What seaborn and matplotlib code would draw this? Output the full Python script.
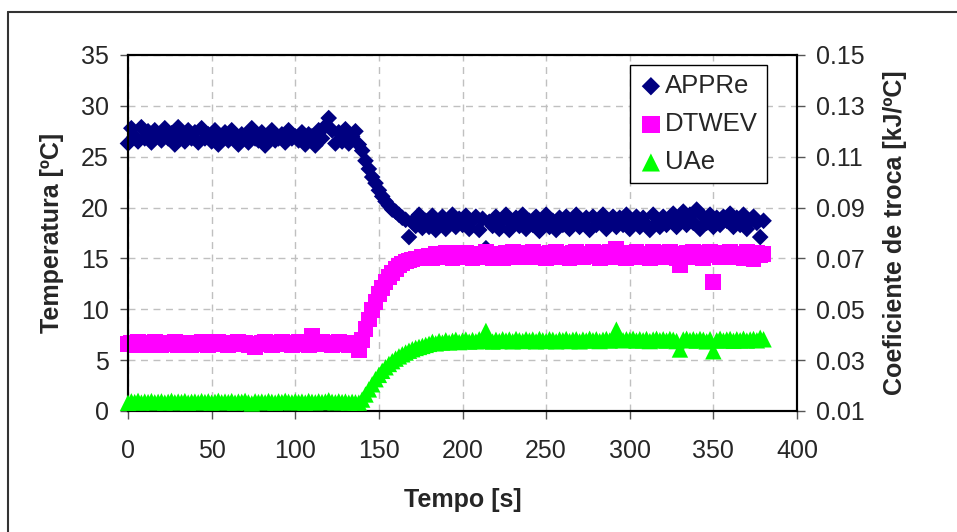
import numpy as np
import pandas as pd
import matplotlib
matplotlib.use("Agg")
import matplotlib.pyplot as plt
import seaborn as sns

# tempo em segundos (amostras a cada 2 s)
tempo = list(range(0, 381, 2))

# APPRe [ºC]
appre = [
    26.3, 27.8, 27.0, 26.5, 27.9, 26.8, 27.5, 26.4, 27.6, 27.1,
    26.6, 27.8, 26.8, 27.3, 26.2, 27.9, 27.0, 26.5, 27.6, 26.8,
    27.4, 26.4, 27.8, 26.8, 27.2, 26.5, 27.6, 26.2, 27.0, 27.4,
    26.6, 27.6, 26.8, 26.2, 27.2, 27.0, 26.4, 27.8, 26.8, 26.6,
    27.4, 26.1, 27.0, 27.6, 26.6, 26.8, 27.2, 26.4, 27.6, 26.8,
    27.0, 26.6, 27.4, 26.2, 27.2, 27.0, 26.1, 27.6, 26.8, 28.0,
    28.8, 27.6, 26.3, 27.4, 26.5, 27.7, 26.3, 27.0, 27.5, 26.2,
    25.6, 24.6, 23.8, 23.0, 22.4, 21.7, 21.1, 20.6, 20.2, 19.8,
    19.6, 19.3, 19.0, 18.8, 17.1, 18.6, 18.2, 19.3, 18.0, 18.7,
    18.1, 19.2, 17.8, 18.6, 19.1, 17.9, 18.7, 19.3, 18.1, 18.9,
    18.3, 19.2, 17.9, 18.7, 19.1, 17.8, 18.9, 16.0, 18.6, 18.2,
    19.1, 17.9, 18.7, 19.3, 17.8, 18.5, 19.0, 18.2, 19.3, 17.9,
    18.7, 18.3, 19.1, 17.7, 18.5, 19.3, 18.1, 18.7, 17.8, 19.0,
    18.3, 19.1, 17.9, 18.7, 19.3, 18.1, 18.5, 19.0, 17.8, 19.1,
    18.3, 18.7, 19.3, 17.9, 18.5, 19.1, 18.1, 19.0, 18.3, 19.3,
    17.9, 18.7, 19.1, 18.1, 19.0, 18.3, 17.8, 19.3, 18.5, 18.1,
    19.1, 18.3, 19.0, 19.4, 18.1, 18.7, 19.6, 18.3, 19.3, 18.5,
    19.8, 17.9, 19.1, 18.5, 19.3, 18.1, 19.0, 18.3, 19.1, 18.7,
    19.4, 18.1, 19.0, 18.3, 19.3, 17.9, 18.7, 19.1, 18.5, 17.1,
    18.7,
]

# DTWEV [ºC]
dtwev = [
    6.6, 6.7, 6.5, 6.8, 6.6, 6.7, 6.5, 6.6, 6.8, 6.7,
    6.5, 6.6, 6.7, 6.6, 6.8, 6.5, 6.6, 6.7, 6.6, 6.5,
    6.7, 6.6, 6.8, 6.6, 6.5, 6.7, 6.6, 6.8, 6.7, 6.6,
    6.5, 6.7, 6.6, 6.8, 6.6, 6.7, 6.5, 6.6, 6.3, 6.6,
    6.7, 6.8, 6.6, 6.5, 6.7, 6.6, 6.8, 6.6, 6.7, 6.5,
    6.6, 6.8, 6.7, 6.6, 6.5, 7.4, 6.7, 6.6, 6.8, 6.7,
    6.6, 6.5, 6.7, 6.8, 6.6, 6.7, 6.5, 6.6, 6.7, 6.0,
    7.0, 8.1, 9.0, 9.9, 10.7, 11.5, 12.1, 12.7, 13.2, 13.6,
    14.0, 14.3, 14.5, 14.7, 14.8, 14.9, 15.0, 15.0, 15.1, 15.1,
    15.2, 15.0, 15.4, 15.1, 15.3, 15.5, 15.2, 15.0, 15.5, 15.3,
    15.1, 15.5, 15.3, 15.0, 15.4, 15.2, 15.1, 15.6, 15.3, 15.0,
    15.4, 15.2, 15.0, 15.5, 15.3, 15.6, 15.1, 15.3, 15.5, 15.1,
    15.3, 15.6, 15.1, 15.4, 15.2, 15.0, 15.5, 15.3, 15.6, 15.1,
    15.4, 15.2, 15.0, 15.5, 15.6, 15.2, 15.1, 15.4, 15.3, 15.6,
    15.2, 15.0, 15.5, 15.3, 15.6, 15.1, 15.9, 15.4, 15.2, 15.0,
    15.5, 15.2, 15.6, 15.1, 15.4, 15.3, 15.0, 15.6, 15.2, 15.5,
    15.1, 15.3, 15.6, 15.4, 15.0, 14.3, 15.3, 15.5, 15.1, 15.6,
    15.2, 15.5, 15.0, 15.3, 15.6, 12.7, 15.3, 15.1, 15.5, 15.2,
    15.6, 15.1, 15.4, 15.3, 15.0, 15.6, 15.2, 14.9, 15.5, 15.3,
    15.4,
]

# UAe [kJ/ºC] (eixo secundario)
uae = [
    0.0132, 0.0138, 0.0135, 0.0140, 0.0133, 0.0137, 0.0135, 0.0139, 0.0134, 0.0136,
    0.0138, 0.0133, 0.0136, 0.0140, 0.0134, 0.0137, 0.0135, 0.0139, 0.0133, 0.0136,
    0.0137, 0.0134, 0.0139, 0.0135, 0.0138, 0.0133, 0.0136, 0.0140, 0.0134, 0.0137,
    0.0135, 0.0139, 0.0133, 0.0137, 0.0136, 0.0140, 0.0134, 0.0130, 0.0138, 0.0135,
    0.0137, 0.0134, 0.0139, 0.0136, 0.0133, 0.0138, 0.0135, 0.0140, 0.0136, 0.0134,
    0.0138, 0.0135, 0.0137, 0.0133, 0.0139, 0.0136, 0.0134, 0.0138, 0.0135, 0.0137,
    0.0142, 0.0136, 0.0134, 0.0138, 0.0135, 0.0137, 0.0133, 0.0136, 0.0134, 0.0133,
    0.0145, 0.0165, 0.0185, 0.0205, 0.0225, 0.0242, 0.0258, 0.0272, 0.0285, 0.0296,
    0.0306, 0.0315, 0.0323, 0.0330, 0.0337, 0.0343, 0.0348, 0.0352, 0.0356, 0.0360,
    0.0364, 0.0372, 0.0366, 0.0375, 0.0369, 0.0378, 0.0370, 0.0376, 0.0380, 0.0371,
    0.0377, 0.0381, 0.0373, 0.0379, 0.0374, 0.0382, 0.0376, 0.0415, 0.0380, 0.0373,
    0.0380, 0.0375, 0.0382, 0.0377, 0.0381, 0.0374, 0.0383, 0.0378, 0.0375, 0.0382,
    0.0377, 0.0381, 0.0374, 0.0383, 0.0378, 0.0375, 0.0382, 0.0380, 0.0374, 0.0381,
    0.0378, 0.0383, 0.0375, 0.0380, 0.0382, 0.0374, 0.0381, 0.0377, 0.0384, 0.0378,
    0.0382, 0.0375, 0.0380, 0.0383, 0.0377, 0.0381, 0.0420, 0.0386, 0.0378, 0.0382,
    0.0380, 0.0384, 0.0377, 0.0382, 0.0378, 0.0383, 0.0375, 0.0381, 0.0384, 0.0378,
    0.0382, 0.0377, 0.0383, 0.0380, 0.0375, 0.0342, 0.0381, 0.0384, 0.0378, 0.0382,
    0.0377, 0.0383, 0.0380, 0.0374, 0.0382, 0.0335, 0.0378, 0.0384, 0.0377, 0.0381,
    0.0383, 0.0376, 0.0382, 0.0378, 0.0384, 0.0377, 0.0381, 0.0383, 0.0378, 0.0388,
    0.0382,
]

x_ticks = [0, 50, 100, 150, 200, 250, 300, 350, 400]
y_ticks = [0, 5, 10, 15, 20, 25, 30, 35]
y2_ticks = [0.01, 0.03, 0.05, 0.07, 0.09, 0.11, 0.13, 0.15]

sns.set_style("ticks")
plt.rcParams['font.family'] = ['Liberation Sans', 'DejaVu Sans']
plt.rcParams['font.size'] = 18

df = pd.DataFrame({'Tempo': tempo, 'APPRe': appre, 'DTWEV': dtwev, 'UAe': uae})

fig = plt.figure(figsize=(9.57, 5.32), dpi=100)
ax = fig.add_axes([128 / 957, 1 - 411 / 532, 669 / 957, 356 / 532])
ax2 = ax.twinx()

# serie 1 e 2 no eixo principal
sns.scatterplot(data=df, x='Tempo', y='APPRe', marker='D', s=72, color='#000080',
                linewidth=0, edgecolor='none', ax=ax, zorder=3, clip_on=False)
sns.scatterplot(data=df, x='Tempo', y='DTWEV', marker='s', s=130, color='#FF00FF',
                linewidth=0, edgecolor='none', ax=ax, zorder=4, clip_on=False)
# serie 3 no eixo secundario
sns.scatterplot(data=df, x='Tempo', y='UAe', marker='^', s=140, color='#00FF00',
                linewidth=0, edgecolor='none', ax=ax2, zorder=3, clip_on=False)

ax.set_xlim(0, 400)
ax.set_ylim(0, 35)
ax2.set_ylim(0.01, 0.15)
ax.set_xticks(x_ticks)
ax.set_yticks(y_ticks)
ax2.set_yticks(y2_ticks)
ax2.set_yticklabels([f"{v:.2f}" for v in y2_ticks])

ax.grid(True, color='#c0c0c0', linestyle=(0, (5, 4)), linewidth=1.0)
ax.set_axisbelow(True)

for a in (ax, ax2):
    for sp in a.spines.values():
        sp.set_color('black')
        sp.set_linewidth(1.5)
ax.tick_params(axis='both', direction='out', length=6, width=1, pad=8, labelsize=18, color='#555555')
ax.tick_params(axis='x', pad=14)
ax2.tick_params(axis='y', direction='out', length=6, width=1, pad=8, labelsize=18, color='#555555')

ax.set_xlabel('Tempo [s]', fontsize=18, fontweight='bold', labelpad=18)
ax.set_ylabel('Temperatura [ºC]', fontsize=18, fontweight='bold', labelpad=12)
ax2.set_ylabel('Coeficiente de troca [kJ/ºC]', fontsize=18, fontweight='bold', labelpad=13)

handles = [ax.collections[0], ax.collections[1], ax2.collections[0]]
leg = ax2.legend(handles, ['APPRe', 'DTWEV', 'UAe'], loc='upper right',
                 bbox_to_anchor=(0.955, 0.972), borderaxespad=0, fontsize=18.5,
                 frameon=True, fancybox=False, edgecolor='black', framealpha=1,
                 handletextpad=0.1, handlelength=0.9, labelspacing=0.55,
                 borderpad=0.35, markerscale=1.1)
leg.get_frame().set_linewidth(1.0)

# moldura externa (apenas topo e lado esquerdo visiveis)
fig.add_artist(plt.Line2D([8 / 957, 1], [1 - 12 / 532, 1 - 12 / 532],
                          transform=fig.transFigure, color='#333333', lw=1.5))
fig.add_artist(plt.Line2D([8 / 957, 8 / 957], [0, 1 - 12 / 532],
                          transform=fig.transFigure, color='#333333', lw=1.5))

fig.savefig('out.png', dpi=100)
